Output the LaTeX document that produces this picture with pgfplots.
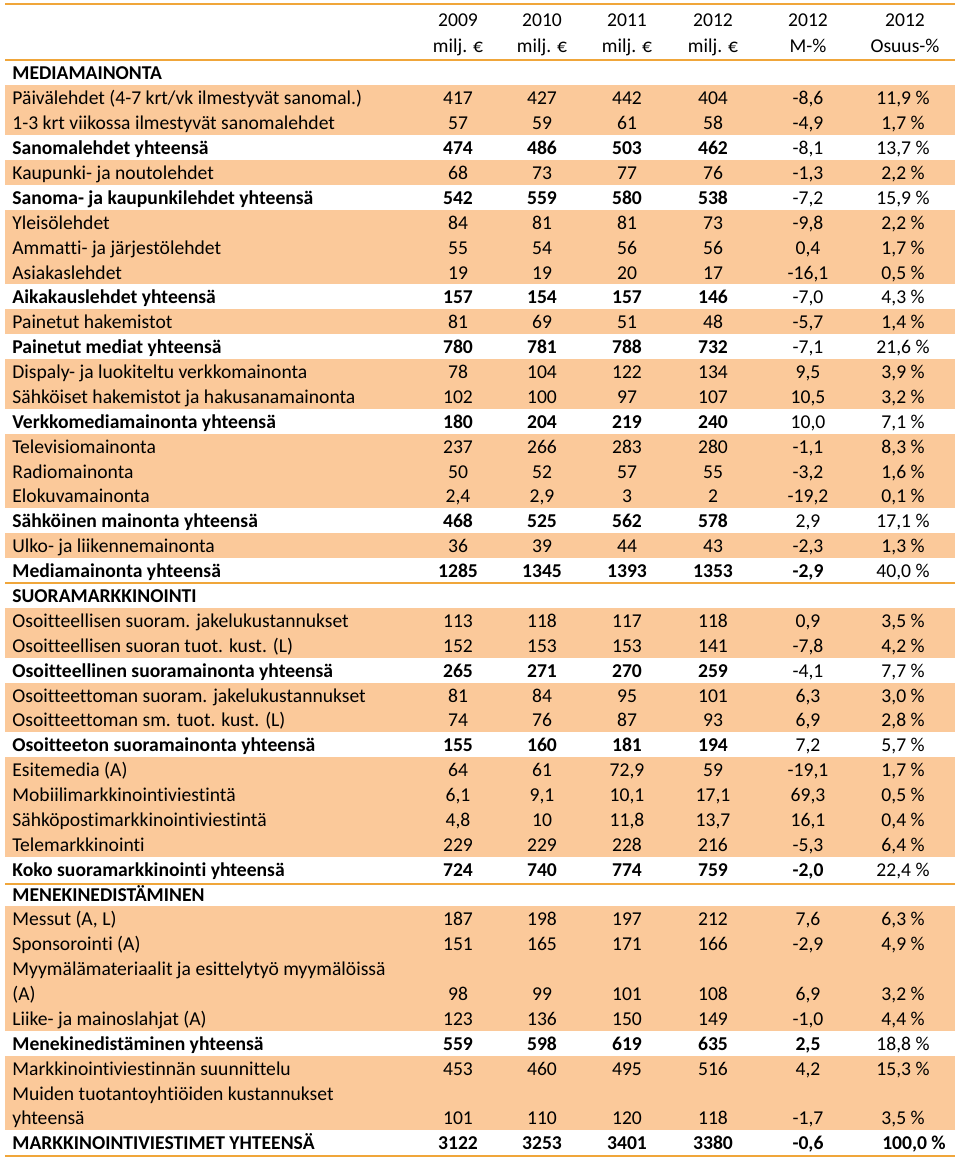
\documentclass[border=0pt]{standalone}
\usepackage{pgfplots}
\pgfplotsset{compat=1.18}
\usepackage{pgfplotstable}
\usepackage{fontspec}
\setmainfont{Carlito}[Ligatures=NoCommon]
\definecolor{peach}{HTML}{FBC99A}
\definecolor{rulec}{HTML}{F0A63A}

\pgfplotstableread[col sep=semicolon]{
x;t1;t2
458;2009;milj. €
542;2010;milj. €
627;2011;milj. €
713;2012;milj. €
808;2012;M-\%
905;2012;Osuus-\%
}\hdr

\pgfplotstableread[col sep=semicolon]{
r;l
1;Päivälehdet (4-7 krt/vk ilmestyvät sanomal.)
2;1-3 krt viikossa ilmestyvät sanomalehdet
4;Kaupunki- ja noutolehdet
6;Yleisölehdet
7;Ammatti- ja järjestölehdet
8;Asiakaslehdet
10;Painetut hakemistot
12;Dispaly- ja luokiteltu verkkomainonta
13;Sähköiset hakemistot ja hakusanamainonta
15;Televisiomainonta
16;Radiomainonta
17;Elokuvamainonta
19;Ulko- ja liikennemainonta
22;Osoitteellisen suoram. jakelukustannukset
23;Osoitteellisen suoran tuot. kust. (L)
25;Osoitteettoman suoram. jakelukustannukset
26;Osoitteettoman sm. tuot. kust. (L)
28;Esitemedia (A)
29;Mobiilimarkkinointiviestintä
30;Sähköpostimarkkinointiviestintä
31;Telemarkkinointi
34;Messut (A, L)
35;Sponsorointi (A)
36;Myymälämateriaalit ja esittelytyö myymälöissä
37;(A)
38;Liike- ja mainoslahjat (A)
40;Markkinointiviestinnän suunnittelu
41;Muiden tuotantoyhtiöiden kustannukset
42;yhteensä
}\lnorm

\pgfplotstableread[col sep=semicolon]{
r;l
0;MEDIAMAINONTA
3;Sanomalehdet yhteensä
5;Sanoma- ja kaupunkilehdet yhteensä
9;Aikakauslehdet yhteensä
11;Painetut mediat yhteensä
14;Verkkomediamainonta yhteensä
18;Sähköinen mainonta yhteensä
20;Mediamainonta yhteensä
21;SUORAMARKKINOINTI
24;Osoitteellinen suoramainonta yhteensä
27;Osoitteeton suoramainonta yhteensä
32;Koko suoramarkkinointi yhteensä
33;MENEKINEDISTÄMINEN
39;Menekinedistäminen yhteensä
43;MARKKINOINTIVIESTIMET YHTEENSÄ
}\lbold

\pgfplotstableread[col sep=semicolon]{
r;a;b;c;d;m;o
1;417;427;442;404;-8,6;11,9
2;57;59;61;58;-4,9;1,7
4;68;73;77;76;-1,3;2,2
6;84;81;81;73;-9,8;2,2
7;55;54;56;56;0,4;1,7
8;19;19;20;17;-16,1;0,5
10;81;69;51;48;-5,7;1,4
12;78;104;122;134;9,5;3,9
13;102;100;97;107;10,5;3,2
15;237;266;283;280;-1,1;8,3
16;50;52;57;55;-3,2;1,6
17;2,4;2,9;3;2;-19,2;0,1
19;36;39;44;43;-2,3;1,3
22;113;118;117;118;0,9;3,5
23;152;153;153;141;-7,8;4,2
25;81;84;95;101;6,3;3,0
26;74;76;87;93;6,9;2,8
28;64;61;72,9;59;-19,1;1,7
29;6,1;9,1;10,1;17,1;69,3;0,5
30;4,8;10;11,8;13,7;16,1;0,4
31;229;229;228;216;-5,3;6,4
34;187;198;197;212;7,6;6,3
35;151;165;171;166;-2,9;4,9
37;98;99;101;108;6,9;3,2
38;123;136;150;149;-1,0;4,4
40;453;460;495;516;4,2;15,3
42;101;110;120;118;-1,7;3,5
}\det

\pgfplotstableread[col sep=semicolon]{
r;a;b;c;d;m;o
3;474;486;503;462;-8,1;13,7
5;542;559;580;538;-7,2;15,9
9;157;154;157;146;-7,0;4,3
11;780;781;788;732;-7,1;21,6
14;180;204;219;240;10,0;7,1
18;468;525;562;578;2,9;17,1
24;265;271;270;259;-4,1;7,7
27;155;160;181;194;7,2;5,7
}\sub

\pgfplotstableread[col sep=semicolon]{
r;a;b;c;d;m;o
20;1285;1345;1393;1353;-2,9;40,0
32;724;740;774;759;-2,0;22,4
39;559;598;619;635;2,5;18,8
}\tot

\pgfplotstableread[col sep=semicolon]{
r;a;b;c;d;m;o
43;3122;3253;3401;3380;-0,6;100,0
}\grand

\pgfplotsset{
  txt/.style={only marks, mark=none, point meta=explicit symbolic,
    nodes near coords={\pgfplotspointmeta},
    every node near coord/.append style={font=\fontsize{9.8}{11}\selectfont, inner sep=0pt, anchor=base, text=black}},
  pct/.style={txt, nodes near coords={\pgfplotspointmeta~\%}},
  lft/.style={every node near coord/.append style={anchor=base west}},
  bf/.style={every node near coord/.append style={font=\fontsize{9.8}{11}\selectfont\bfseries}},
  blk/.style={fill=peach, draw=none},
  hl/.style={draw=rulec, line width=1.2pt},
}

\begin{document}
\begin{tikzpicture}
\path[use as bounding box] (0,0) rectangle (480pt,579.5pt);
\begin{axis}[at={(0,0)}, anchor=south west,
  width=480pt, height=579.5pt, scale only axis,
  xmin=0, xmax=960, ymin=0, ymax=1159, y dir=reverse,
  hide axis, clip=false]

% shaded blocks
\addplot[blk] coordinates {(5,85.44) (955,85.44) (955,135.2) (5,135.2)} -- cycle;
\addplot[blk] coordinates {(5,160.08) (955,160.08) (955,184.96) (5,184.96)} -- cycle;
\addplot[blk] coordinates {(5,209.84) (955,209.84) (955,284.48) (5,284.48)} -- cycle;
\addplot[blk] coordinates {(5,309.36) (955,309.36) (955,334.24) (5,334.24)} -- cycle;
\addplot[blk] coordinates {(5,359.12) (955,359.12) (955,408.88) (5,408.88)} -- cycle;
\addplot[blk] coordinates {(5,433.76) (955,433.76) (955,508.4) (5,508.4)} -- cycle;
\addplot[blk] coordinates {(5,533.28) (955,533.28) (955,558.16) (5,558.16)} -- cycle;
\addplot[blk] coordinates {(5,607.92) (955,607.92) (955,657.68) (5,657.68)} -- cycle;
\addplot[blk] coordinates {(5,682.56) (955,682.56) (955,732.32) (5,732.32)} -- cycle;
\addplot[blk] coordinates {(5,757.2) (955,757.2) (955,856.72) (5,856.72)} -- cycle;
\addplot[blk] coordinates {(5,906.48) (955,906.48) (955,1030.88) (5,1030.88)} -- cycle;
\addplot[blk] coordinates {(5,1055.76) (955,1055.76) (955,1130.4) (5,1130.4)} -- cycle;

% rules
\addplot[hl] coordinates {(5,4) (955,4)};
\addplot[hl] coordinates {(5,60) (955,60)};
\addplot[hl] coordinates {(5,583) (955,583)};
\addplot[hl] coordinates {(5,884) (955,884)};
\addplot[hl] coordinates {(5,1156) (955,1156)};

% header
\addplot[txt] table[x=x, y expr=27, meta=t1] {\hdr};
\addplot[txt] table[x=x, y expr=53, meta=t2] {\hdr};

% labels
\addplot[txt, lft] table[x expr=12, y expr=80+24.88*\thisrow{r}, meta=l] {\lnorm};
\addplot[txt, lft, bf] table[x expr=12, y expr=80+24.88*\thisrow{r}, meta=l] {\lbold};

% detail rows
\addplot[txt] table[x expr=458, y expr=80+24.88*\thisrow{r}, meta=a] {\det};
\addplot[txt] table[x expr=542, y expr=80+24.88*\thisrow{r}, meta=b] {\det};
\addplot[txt] table[x expr=627, y expr=80+24.88*\thisrow{r}, meta=c] {\det};
\addplot[txt] table[x expr=713, y expr=80+24.88*\thisrow{r}, meta=d] {\det};
\addplot[txt] table[x expr=808, y expr=80+24.88*\thisrow{r}, meta=m] {\det};
\addplot[pct] table[x expr=903, y expr=80+24.88*\thisrow{r}, meta=o] {\det};

% subtotal rows
\addplot[txt, bf] table[x expr=458, y expr=80+24.88*\thisrow{r}, meta=a] {\sub};
\addplot[txt, bf] table[x expr=542, y expr=80+24.88*\thisrow{r}, meta=b] {\sub};
\addplot[txt, bf] table[x expr=627, y expr=80+24.88*\thisrow{r}, meta=c] {\sub};
\addplot[txt, bf] table[x expr=713, y expr=80+24.88*\thisrow{r}, meta=d] {\sub};
\addplot[txt] table[x expr=808, y expr=80+24.88*\thisrow{r}, meta=m] {\sub};
\addplot[pct] table[x expr=903, y expr=80+24.88*\thisrow{r}, meta=o] {\sub};

% totals
\addplot[txt, bf] table[x expr=458, y expr=80+24.88*\thisrow{r}, meta=a] {\tot};
\addplot[txt, bf] table[x expr=542, y expr=80+24.88*\thisrow{r}, meta=b] {\tot};
\addplot[txt, bf] table[x expr=627, y expr=80+24.88*\thisrow{r}, meta=c] {\tot};
\addplot[txt, bf] table[x expr=713, y expr=80+24.88*\thisrow{r}, meta=d] {\tot};
\addplot[txt, bf] table[x expr=808, y expr=80+24.88*\thisrow{r}, meta=m] {\tot};
\addplot[pct] table[x expr=903, y expr=80+24.88*\thisrow{r}, meta=o] {\tot};

% grand total
\addplot[txt, bf] table[x expr=458, y expr=80+24.88*\thisrow{r}, meta=a] {\grand};
\addplot[txt, bf] table[x expr=542, y expr=80+24.88*\thisrow{r}, meta=b] {\grand};
\addplot[txt, bf] table[x expr=627, y expr=80+24.88*\thisrow{r}, meta=c] {\grand};
\addplot[txt, bf] table[x expr=713, y expr=80+24.88*\thisrow{r}, meta=d] {\grand};
\addplot[txt, bf] table[x expr=808, y expr=80+24.88*\thisrow{r}, meta=m] {\grand};
\addplot[pct, bf] table[x expr=914, y expr=80+24.88*\thisrow{r}, meta=o] {\grand};

\end{axis}
\end{tikzpicture}
\end{document}
